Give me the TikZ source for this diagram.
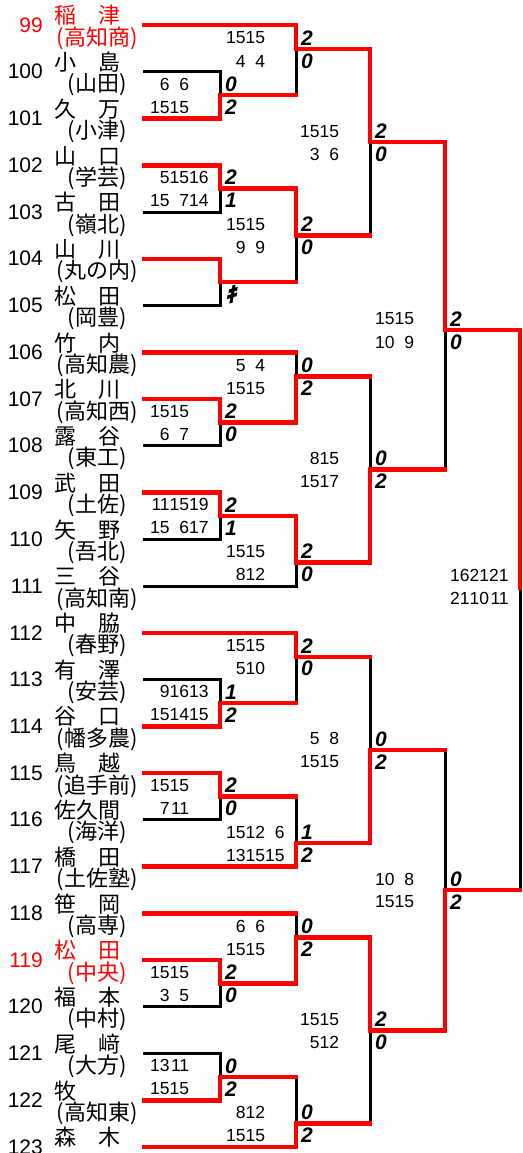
\documentclass[tikz,border=0pt]{standalone}
\usepackage{fontspec}
\setmainfont{Liberation Sans}
\newfontfamily\jp{Noto Sans CJK JP}
\newfontfamily\jpmark[FakeSlant=0.25,FakeBold=2]{Noto Sans CJK JP}
\pgfdeclarelayer{back}
\pgfdeclarelayer{bg}
\pgfsetlayers{back,bg,main}
\tikzset{
  blk/.style={line width=3pt, black, line cap=rect},
  rd/.style={line width=4.5pt, red, line cap=rect, line join=miter},
  num/.style={anchor=east, inner sep=0pt, font=\fontsize{21}{21}\selectfont},
  nm/.style={anchor=west, inner sep=0pt, font=\jp\fontsize{22}{22}\selectfont},
  sch/.style={inner sep=0pt, font=\jp\fontsize{22}{22}\selectfont},
  sc/.style={anchor=west, inner sep=0pt, font=\fontsize{17.5}{17.5}\selectfont},
  mk/.style={anchor=west, inner sep=0pt, font=\bfseries\itshape\fontsize{21}{21}\selectfont},
}
\newcommand\gm[1]{\makebox[19.5pt][r]{#1}}
% entry: k, number, name, colour
\newcommand\entry[4]{%
  \node[num, text=#4] (n#2) at (43,{25+46.75*#1}) {#2};
  \node[nm, text=#4] (a#2) at (54,{15.5+46.75*#1}) {#3};
}
% school: k, number, school, colour
\newcommand\school[4]{%
  \node[sch, text=#4] (b#2) at (97,{38+46.75*#1}) {\makebox[10pt][r]{(}#3\makebox[10pt][l]{)}};
}
% team line: k, x end, style
\newcommand\tline[3]{%
  \ifx r#3
    \draw[rd] (144,{25+46.75*#1}) -- (#2,{25+46.75*#1});
  \else
    \begin{pgfonlayer}{bg}\draw[blk] (144,{25+46.75*#1}) -- (#2,{25+46.75*#1});\end{pgfonlayer}
  \fi}
% match: x, ytop, ybot, J, winner (t/b), xnext
\newcommand\mt[6]{%
  \ifx t#5
    \begin{pgfonlayer}{bg}\draw[blk] (#1,#4) -- (#1,#3);\end{pgfonlayer}
    \draw[rd] (#1,#2) -- (#1,#4) -- (#6,#4);
  \else
    \begin{pgfonlayer}{bg}\draw[blk] (#1,#2) -- (#1,#4);\end{pgfonlayer}
    \draw[rd] (#1,#3) -- (#1,#4) -- (#6,#4);
  \fi}
% result: name, xvert, J, top mark, bottom mark, top score, bottom score
\newcommand\res[7]{%
  \node[sc] (#1s1) at ({#2-70},{#3-11}) {#6};
  \node[sc] (#1s2) at ({#2-70},{#3+12}) {#7};
  \node[mk] (#1m1) at ({#2+5},{#3-11}) {#4};
  \node[mk] (#1m2) at ({#2+5},{#3+12}) {#5};
}
\begin{document}
\begin{tikzpicture}[x=1pt,y=-1pt]
\useasboundingbox (0,0) rectangle (522,1153);
\begin{pgfonlayer}{back}\fill[white] (0,0) rectangle (522,1153);\end{pgfonlayer}
% entries
\entry{0}{99}{稲　津}{red}\school{0}{99}{高知商}{red}
\entry{1}{100}{小　島}{black}\school{1}{100}{山田}{black}
\entry{2}{101}{久　万}{black}\school{2}{101}{小津}{black}
\entry{3}{102}{山　口}{black}\school{3}{102}{学芸}{black}
\entry{4}{103}{古　田}{black}\school{4}{103}{嶺北}{black}
\entry{5}{104}{山　川}{black}\school{5}{104}{丸の内}{black}
\entry{6}{105}{松　田}{black}\school{6}{105}{岡豊}{black}
\entry{7}{106}{竹　内}{black}\school{7}{106}{高知農}{black}
\entry{8}{107}{北　川}{black}\school{8}{107}{高知西}{black}
\entry{9}{108}{露　谷}{black}\school{9}{108}{東工}{black}
\entry{10}{109}{武　田}{black}\school{10}{109}{土佐}{black}
\entry{11}{110}{矢　野}{black}\school{11}{110}{吾北}{black}
\entry{12}{111}{三　谷}{black}\school{12}{111}{高知南}{black}
\entry{13}{112}{中　脇}{black}\school{13}{112}{春野}{black}
\entry{14}{113}{有　澤}{black}\school{14}{113}{安芸}{black}
\entry{15}{114}{谷　口}{black}\school{15}{114}{幡多農}{black}
\entry{16}{115}{鳥　越}{black}\school{16}{115}{追手前}{black}
\entry{17}{116}{佐久間}{black}\school{17}{116}{海洋}{black}
\entry{18}{117}{橋　田}{black}\school{18}{117}{土佐塾}{black}
\entry{19}{118}{笹　岡}{black}\school{19}{118}{高専}{black}
\entry{20}{119}{松　田}{red}\school{20}{119}{中央}{red}
\entry{21}{120}{福　本}{black}\school{21}{120}{中村}{black}
\entry{22}{121}{尾　﨑}{black}\school{22}{121}{大方}{black}
\entry{23}{122}{牧}{black}\school{23}{122}{高知東}{black}
\entry{24}{123}{森　木}{black}
% team lines
\tline{0}{296}{r}
\tline{1}{220}{k}
\tline{2}{220}{r}
\tline{3}{220}{r}
\tline{4}{220}{k}
\tline{5}{220}{r}
\tline{6}{220}{k}
\tline{7}{296}{r}
\tline{8}{220}{r}
\tline{9}{220}{k}
\tline{10}{220}{r}
\tline{11}{220}{k}
\tline{12}{296}{k}
\tline{13}{296}{r}
\tline{14}{220}{k}
\tline{15}{220}{r}
\tline{16}{220}{r}
\tline{17}{220}{k}
\tline{18}{296}{r}
\tline{19}{296}{r}
\tline{20}{220}{r}
\tline{21}{220}{k}
\tline{22}{220}{k}
\tline{23}{220}{r}
\tline{24}{296}{r}
% round 1
\mt{220}{71.75}{118.5}{95.1}{b}{296}
\mt{220}{165.25}{212}{188.6}{t}{296}
\mt{220}{258.75}{305.5}{282.1}{t}{296}
\mt{220}{399}{445.75}{422.4}{t}{296}
\mt{220}{492.5}{539.25}{515.9}{t}{296}
\mt{220}{679.5}{726.25}{702.9}{b}{296}
\mt{220}{773}{819.75}{796.4}{t}{296}
\mt{220}{960}{1006.75}{983.4}{t}{296}
\mt{220}{1053.5}{1100.25}{1076.9}{b}{296}
% round 2
\mt{296}{25}{95.1}{49}{t}{370}
\mt{296}{188.6}{282.1}{235.4}{t}{370}
\mt{296}{352.25}{422.4}{376.25}{b}{370}
\mt{296}{515.9}{586}{562.5}{t}{370}
\mt{296}{632.75}{702.9}{656.75}{t}{370}
\mt{296}{796.4}{866.5}{843}{b}{370}
\mt{296}{913.25}{983.4}{937.25}{b}{370}
\mt{296}{1076.9}{1147}{1123.5}{b}{370}
% round 3
\mt{370}{49}{235.4}{142.2}{t}{445}
\mt{370}{376.25}{562.5}{469.4}{b}{445}
\mt{370}{656.75}{843}{749.9}{b}{445}
\mt{370}{937.25}{1123.5}{1030.4}{t}{445}
% round 4
\mt{445}{142.2}{469.4}{330}{t}{520}
\mt{445}{749.9}{1030.4}{890}{b}{520}
% final
\begin{pgfonlayer}{bg}\draw[blk] (520,588) -- (520,890);\end{pgfonlayer}
\draw[rd] (520,330) -- (520,588);
% results
\res{ra}{220}{95.1}{0}{2}{\gm{6}\gm{6}}{\gm{15}\gm{15}}
\res{rb}{220}{188.6}{2}{1}{\gm{5}\gm{15}\gm{16}}{\gm{15}\gm{7}\gm{14}}
\res{rc}{220}{282.1}{}{\jpmark ｷ}{}{}
\res{rd}{220}{422.4}{2}{0}{\gm{15}\gm{15}}{\gm{6}\gm{7}}
\res{re}{220}{515.9}{2}{1}{\gm{11}\gm{15}\gm{19}}{\gm{15}\gm{6}\gm{17}}
\res{rf}{220}{702.9}{1}{2}{\gm{9}\gm{16}\gm{13}}{\gm{15}\gm{14}\gm{15}}
\res{rg}{220}{796.4}{2}{0}{\gm{15}\gm{15}}{\gm{7}\gm{11}}
\res{rh}{220}{983.4}{2}{0}{\gm{15}\gm{15}}{\gm{3}\gm{5}}
\res{ri}{220}{1076.9}{0}{2}{\gm{13}\gm{11}}{\gm{15}\gm{15}}
\res{sa}{296}{49}{2}{0}{\gm{15}\gm{15}}{\gm{4}\gm{4}}
\res{sb}{296}{235.4}{2}{0}{\gm{15}\gm{15}}{\gm{9}\gm{9}}
\res{sc}{296}{376.25}{0}{2}{\gm{5}\gm{4}}{\gm{15}\gm{15}}
\res{sd}{296}{562.5}{2}{0}{\gm{15}\gm{15}}{\gm{8}\gm{12}}
\res{se}{296}{656.75}{2}{0}{\gm{15}\gm{15}}{\gm{5}\gm{10}}
\res{sf}{296}{843}{1}{2}{\gm{15}\gm{12}\gm{6}}{\gm{13}\gm{15}\gm{15}}
\res{sg}{296}{937.25}{0}{2}{\gm{6}\gm{6}}{\gm{15}\gm{15}}
\res{sh}{296}{1123.5}{0}{2}{\gm{8}\gm{12}}{\gm{15}\gm{15}}
\res{ta}{370}{142.2}{2}{0}{\gm{15}\gm{15}}{\gm{3}\gm{6}}
\res{tb}{370}{469.4}{0}{2}{\gm{8}\gm{15}}{\gm{15}\gm{17}}
\res{tc}{370}{749.9}{0}{2}{\gm{5}\gm{8}}{\gm{15}\gm{15}}
\res{td}{370}{1030.4}{2}{0}{\gm{15}\gm{15}}{\gm{5}\gm{12}}
\res{ua}{445}{330}{2}{0}{\gm{15}\gm{15}}{\gm{10}\gm{9}}
\res{ub}{445}{890}{0}{2}{\gm{10}\gm{8}}{\gm{15}\gm{15}}
\node[sc] (fs1) at (450,575) {\gm{16}\gm{21}\gm{21}};
\node[sc] (fs2) at (450,598) {\gm{21}\gm{10}\gm{11}};
\end{tikzpicture}
\end{document}
